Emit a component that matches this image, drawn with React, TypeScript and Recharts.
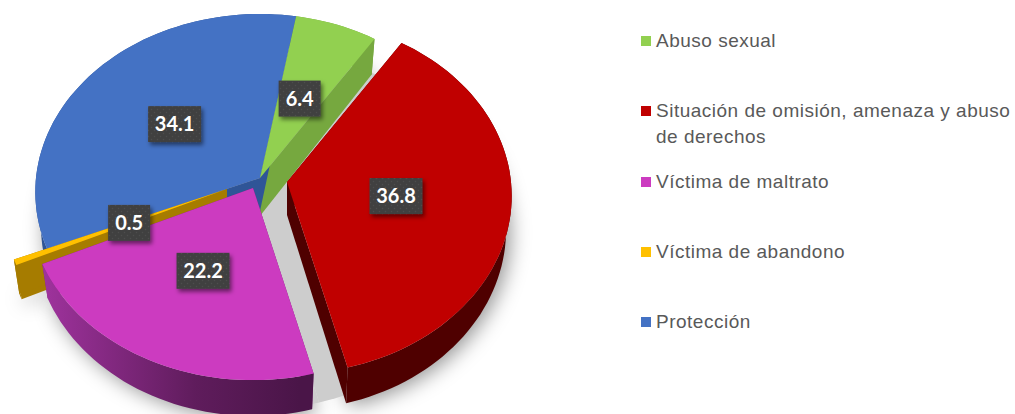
import React from 'react';
import { PieChart, Pie, Legend } from 'recharts';

const categories = [
  'Abuso sexual',
  'Situación de omisión, amenaza y abuso de derechos',
  'Víctima de maltrato',
  'Víctima de abandono',
  'Protección',
];
const values = [6.4, 36.8, 22.2, 0.5, 34.1];
const topColors = ['#92d050', '#c00000', '#cc3bc0', '#ffc000', '#4472c4'];
const wallColors = ['#76a83f', '#4f0000', 'url(#purpleWall)', '#a67c00', '#2f5597'];

// how far each slice is pulled out of the pie, in px
const explode = [[0, 0], [27, 4], [-7, 10], [-33, 11], [0, 0]];
const depths = [38, 33, 33, 33, 33];
const labelFractions = [0.5, 0.49, 0.5, 0.47, 0.5];

const wallOrder = [0, 4, 3, 2, 1];
const topOrder = [4, 0, 3, 2, 1];

const pieData = categories.map((name, i) => ({ name, value: values[i] }));

const CX = 260;
const CY = 178;
const RADIUS = 224;
const SQUASH = 0.79;
const PERSPECTIVE = 0.079;
const BOTTOM_SHRINK = 0.975;
const RAD = Math.PI / 180;

// angle + radius on the disc -> screen, with the front of the pie drawn larger
const project = (
  cx: number, cy: number, R: number, angle: number, r: number,
  dx: number, dy: number, depth: number,
) => {
  const u = Math.cos(angle * RAD) * r;
  const v = -Math.sin(angle * RAD) * r;
  const s = 1 / (1 - PERSPECTIVE * v);
  return [
    cx + dx + R * u * s * (depth > 0 ? BOTTOM_SHRINK : 1),
    cy + dy + (R * SQUASH * v + depth) * s,
  ];
};

const toPath = (pts: number[][]) =>
  'M' + pts.map((p) => `${p[0].toFixed(1)},${p[1].toFixed(1)}`).join('L') + 'Z';

const slicePaths = (props: any, dx: number, dy: number, depth: number) => {
  const { cx, cy, outerRadius, startAngle, endAngle } = props;
  const steps = Math.max(2, Math.ceil(Math.abs(endAngle - startAngle) / 2));
  const angles = Array.from({ length: steps + 1 }, (_, i) => startAngle + ((endAngle - startAngle) * i) / steps);
  const rimTop = angles.map((a) => project(cx, cy, outerRadius, a, 1, dx, dy, 0));
  const rimBottom = angles.map((a) => project(cx, cy, outerRadius, a, 1, dx, dy, depth));
  const apexTop = project(cx, cy, outerRadius, 0, 0, dx, dy, 0);
  const apexBottom = project(cx, cy, outerRadius, 0, 0, dx, dy, depth);
  return {
    top: toPath([apexTop, ...rimTop]),
    rim: toPath([...rimTop, ...[...rimBottom].reverse()]),
    wallA: toPath([apexTop, rimTop[0], rimBottom[0], apexBottom]),
    wallB: toPath([apexTop, rimTop[steps], rimBottom[steps], apexBottom]),
    bottom: toPath([apexBottom, ...rimBottom]),
  };
};

const indexOf = (props: any) => categories.indexOf(props.name ?? props.payload?.name);

const shadowShape = (props: any) => {
  const i = indexOf(props);
  const p = slicePaths(props, explode[i][0] + 4, explode[i][1] + 3, depths[i]);
  return (
    <g filter="url(#softShadow)" fill="#000" fillOpacity={0.42}>
      <path d={p.bottom} />
    </g>
  );
};

const floorShape = (props: any) => {
  const i = indexOf(props);
  if (i !== 1 && i !== 2) return <g />;
  return <path d={slicePaths(props, 0, 0, 36).bottom} fill="#cdcdcd" />;
};

const wallShape = (only: number) => (props: any) => {
  const i = indexOf(props);
  if (i !== only) return <g />;
  const p = slicePaths(props, explode[i][0], explode[i][1], depths[i]);
  const flat = i === 2 ? '#7a2678' : wallColors[i];
  return (
    <g>
      <path d={p.wallA} fill={flat} />
      <path d={p.wallB} fill={flat} />
      <path d={p.rim} fill={wallColors[i]} />
    </g>
  );
};

const topShape = (only: number) => (props: any) => {
  const i = indexOf(props);
  if (i !== only) return <g />;
  const p = slicePaths(props, explode[i][0], explode[i][1], 0);
  return <path d={p.top} fill={topColors[i]} />;
};

const emptyShape = () => <g />;

const renderValueLabel = (props: any) => {
  const i = indexOf(props);
  const [x, y] = project(props.cx, props.cy, props.outerRadius, props.midAngle, labelFractions[i], explode[i][0], explode[i][1], 0);
  const text = String(props.value);
  const w = text.length > 3 ? 53 : 42;
  return (
    <g key={text}>
      <rect x={x - w / 2} y={y - 18} width={w} height={36} fill="url(#labelDots)" filter="url(#labelShadow)" />
      <text
        x={x}
        y={y + 7}
        textAnchor="middle"
        fontFamily="Lato, sans-serif"
        fontWeight={700}
        fontSize={20}
        fill="#fff"
      >
        {text}
      </text>
    </g>
  );
};

const LegendBlock = () => (
  <div style={{ fontFamily: '"Liberation Sans", Arial, sans-serif', fontSize: 19, lineHeight: '26px', color: '#595959' }}>
    {categories.map((name, i) => (
      <div key={name} style={{ height: 70.3, display: 'flex', alignItems: 'flex-start' }}>
        <span style={{ width: 10, height: 10, marginTop: 8, marginRight: 5, flex: 'none', background: topColors[i] }} />
        <span style={{ letterSpacing: 0.5 }}>{name}</span>
      </div>
    ))}
  </div>
);

const pieProps = {
  data: pieData,
  dataKey: 'value',
  nameKey: 'name',
  cx: CX,
  cy: CY,
  outerRadius: RADIUS,
  startAngle: 80,
  endAngle: -280,
  stroke: 'none',
  legendType: 'none' as const,
  isAnimationActive: false,
  labelLine: false,
};

export default function App() {
  return (
    <div style={{ position: 'absolute', left: 0, top: 0, width: 1015, height: 414, overflow: 'hidden', background: '#fff' }}>
      <PieChart width={1015} height={414} margin={{ top: 0, right: 0, bottom: 0, left: 0 }}>
        <defs>
          <linearGradient id="purpleWall" gradientUnits="userSpaceOnUse" x1="40" y1="0" x2="300" y2="0">
            <stop offset="0" stopColor="#a0339e" />
            <stop offset="0.6" stopColor="#5f1c5c" />
            <stop offset="1" stopColor="#4a1548" />
          </linearGradient>
          <filter id="softShadow" filterUnits="userSpaceOnUse" x="0" y="0" width="1015" height="414">
            <feGaussianBlur stdDeviation="10" />
          </filter>
          <filter id="labelShadow" x="-30%" y="-30%" width="170%" height="170%">
            <feDropShadow dx="2" dy="3" stdDeviation="2" floodColor="#000" floodOpacity="0.5" />
          </filter>
          <pattern id="labelDots" width="6" height="6" patternUnits="userSpaceOnUse">
            <rect width="6" height="6" fill="#404040" />
            <circle cx="1.5" cy="1.5" r="0.8" fill="#4e4e4e" />
            <circle cx="4.5" cy="4.5" r="0.8" fill="#4e4e4e" />
          </pattern>
        </defs>
        <Pie key="shadow" {...pieProps} shape={shadowShape} />
        <Pie key="floor" {...pieProps} shape={floorShape} />
        {wallOrder.map((i) => (
          <Pie key={`wall-${i}`} {...pieProps} shape={wallShape(i)} />
        ))}
        {topOrder.map((i) => (
          <Pie key={`top-${i}`} {...pieProps} shape={topShape(i)} />
        ))}
        <Pie key="labels" {...pieProps} shape={emptyShape} label={renderValueLabel} />
        <Legend
          layout="vertical"
          align="right"
          verticalAlign="top"
          content={<LegendBlock />}
          wrapperStyle={{ left: 641, top: 28, width: 374, right: 'auto', bottom: 'auto' }}
        />
      </PieChart>
    </div>
  );
}
